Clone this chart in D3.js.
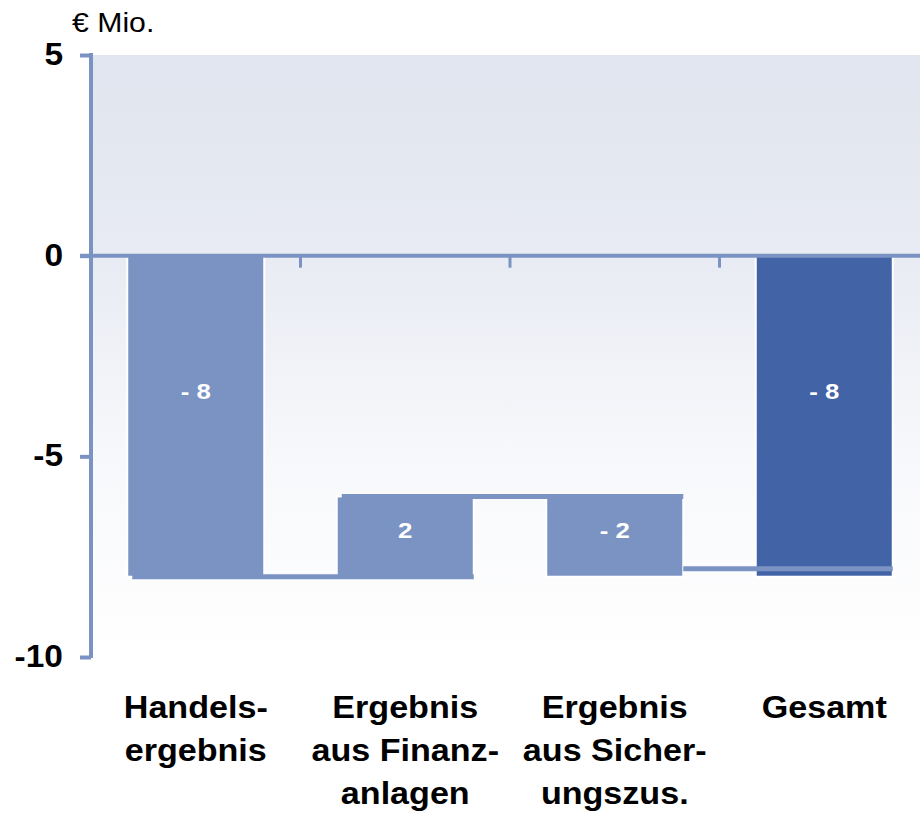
<!DOCTYPE html>
<html>
<head>
<meta charset="utf-8">
<script src="https://cdn.jsdelivr.net/npm/d3@7"></script>
<style>
  body { margin: 0; background: #fff; }
  svg { display: block; font-family: "Liberation Sans", Arial, sans-serif; }
</style>
</head>
<body>
<svg id="chart" width="920" height="816"></svg>
<script>
// data
const categories = [
  ["Handels-", "ergebnis"],
  ["Ergebnis", "aus Finanz-", "anlagen"],
  ["Ergebnis", "aus Sicher-", "ungszus."],
  ["Gesamt"]
];
const deltas = [-8, 2, -2, -8];
const isTotal = [false, false, false, true];
const valueLabels = ["- 8", "2", "- 2", "- 8"];
const connectorLevels = [-8, -6, -7.8];
const yTicks = [5, 0, -5, -10];
const unitLabel = "€ Mio.";

const barColor = "#7b93c3";
const totalColor = "#4263a6";
const axisColor = "#7b93c3";

var svg = d3.select("#chart");

var y = d3.scaleLinear().domain([-10, 5]).range([657, 55]);
var x = d3.scaleBand()
  .domain(d3.range(categories.length))
  .range([91, 929])
  .paddingInner(0.346)
  .paddingOuter(0.173);

// waterfall start / end
var running = 0;
var bars = deltas.map(function(d, i) {
  var b;
  if (isTotal[i]) {
    b = { i: i, from: 0, to: d };
  } else {
    b = { i: i, from: running, to: running + d };
    running += d;
  }
  return b;
});

// text helper with horizontal stretch (reference glyphs are wider)
function stretchedText(g, tx, ty, str, size, weight, anchor, sx, fill) {
  return g.append("text")
    .attr("transform", "translate(" + tx + "," + ty + ") scale(" + sx + ",1)")
    .attr("text-anchor", anchor)
    .attr("font-size", size)
    .attr("font-weight", weight)
    .attr("fill", fill || "#000")
    .text(str);
}

// background gradient
var defs = svg.append("defs");
var grad = defs.append("linearGradient")
  .attr("id", "bg").attr("x1", 0).attr("y1", 0).attr("x2", 0).attr("y2", 1);
grad.append("stop").attr("offset", "0").attr("stop-color", "#e1e5ef");
grad.append("stop").attr("offset", "0.33").attr("stop-color", "#e8ebf3");
grad.append("stop").attr("offset", "0.66").attr("stop-color", "#f7f8fb");
grad.append("stop").attr("offset", "1").attr("stop-color", "#ffffff");

svg.append("rect")
  .attr("x", 93).attr("y", y(5))
  .attr("width", 920 - 93).attr("height", y(-10) - y(5))
  .attr("fill", "url(#bg)");

// bars
svg.selectAll("rect.bar")
  .data(bars)
  .enter()
  .append("rect")
  .attr("class", "bar")
  .attr("x", function(d) { return x(d.i); })
  .attr("y", function(d) { return y(Math.max(d.from, d.to)); })
  .attr("width", x.bandwidth())
  .attr("height", function(d) { return Math.abs(y(d.from) - y(d.to)); })
  .attr("fill", function(d) { return isTotal[d.i] ? totalColor : barColor; })
  .attr("stroke", "#fff")
  .attr("stroke-width", 2);

// connectors
svg.selectAll("line.conn")
  .data(connectorLevels)
  .enter()
  .append("line")
  .attr("class", "conn")
  .attr("x1", function(d, i) { return i === 2 ? x(i) + x.bandwidth() : x(i) + 5; })
  .attr("x2", function(d, i) { return x(i + 1) + x.bandwidth(); })
  .attr("y1", function(d) { return y(d); })
  .attr("y2", function(d) { return y(d); })
  .attr("stroke", barColor)
  .attr("stroke-width", 5);

// value labels
bars.forEach(function(b) {
  var top = y(Math.max(b.from, b.to));
  var h = Math.abs(y(b.from) - y(b.to));
  stretchedText(svg, x(b.i) + x.bandwidth() / 2, top + h * 0.42 + 8,
    valueLabels[b.i], 21.5, "bold", "middle", 1.2, "#fff");
});

// zero line + category separators
svg.append("line")
  .attr("x1", 80).attr("x2", 920)
  .attr("y1", y(0)).attr("y2", y(0))
  .attr("stroke", axisColor).attr("stroke-width", 4);

var step = x.step();
svg.selectAll("line.sep")
  .data(d3.range(categories.length - 1))
  .enter()
  .append("line")
  .attr("class", "sep")
  .attr("x1", function(d) { return x(d) + x.bandwidth() + (step - x.bandwidth()) / 2; })
  .attr("x2", function(d) { return x(d) + x.bandwidth() + (step - x.bandwidth()) / 2; })
  .attr("y1", y(0)).attr("y2", y(0) + 12)
  .attr("stroke", axisColor).attr("stroke-width", 3);

// y axis
var yAxis = d3.axisLeft(y).tickValues(yTicks).tickSize(11).tickSizeOuter(0).tickFormat("");
var ga = svg.append("g").attr("transform", "translate(91,0)").call(yAxis);
ga.select(".domain").attr("stroke", axisColor).attr("stroke-width", 4)
  .attr("d", "M0," + (y(5) - 2) + "V" + (y(-10) + 1));
ga.selectAll(".tick line").attr("stroke", axisColor).attr("stroke-width", 4);

yTicks.forEach(function(t) {
  stretchedText(svg, 63, y(t) + 10, String(t), 31, "bold", "end", 1.08);
});

stretchedText(svg, 72, 32, unitLabel, 27, "normal", "start", 1.12);

// category labels
categories.forEach(function(lines, i) {
  lines.forEach(function(line, j) {
    stretchedText(svg, x(i) + x.bandwidth() / 2, 718 + j * 43,
      line, 31, "bold", "middle", 1.1);
  });
});
</script>
</body>
</html>
